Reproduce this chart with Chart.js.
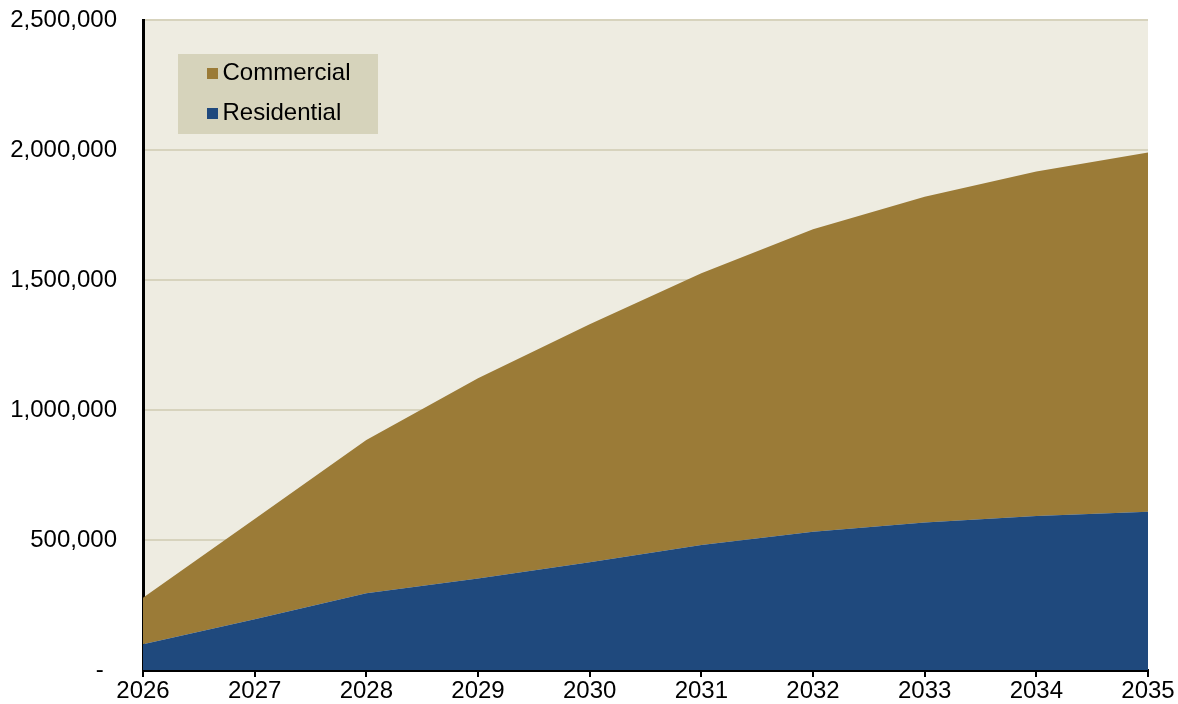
<!DOCTYPE html>
<html>
<head>
<meta charset="utf-8">
<style>
  html, body { margin: 0; padding: 0; background: #ffffff; }
  #wrap { width: 1178px; height: 704px; }
</style>
<script src="https://cdn.jsdelivr.net/npm/chart.js@4.4.1/dist/chart.umd.min.js"></script>
</head>
<body>
<div id="wrap"><canvas id="chart" width="1178" height="704"></canvas></div>
<script>
// Years on the horizontal axis
const years = ['2026', '2027', '2028', '2029', '2030', '2031', '2032', '2033', '2034', '2035'];

// Stacked series (Residential at the bottom, Commercial on top)
const residential = [99000, 195000, 295000, 352000, 414000, 481000, 532000, 567000, 592000, 609000];
const commercial  = [179000, 386000, 590000, 770000, 916000, 1045000, 1163000, 1253000, 1325000, 1381000];

// Value axis
const yMin = 0;
const yMax = 2500000;
const yStep = 500000;

const FONT = '"Liberation Sans", Arial, Helvetica, sans-serif';
const FONT_SIZE = 24;
const COLORS = {
  residential: '#1f497d',
  commercial: '#9b7b37',
  plotBg: '#eeece1',
  grid: '#d7d3bd',
  legendBg: '#d6d3bb'
};

// Paints the beige plot background behind the areas
const plotBackground = {
  id: 'plotBackground',
  beforeDraw(chart) {
    const { ctx, chartArea: a } = chart;
    ctx.save();
    ctx.fillStyle = COLORS.plotBg;
    ctx.fillRect(a.left, a.top, a.right - a.left, a.bottom - a.top);
    ctx.restore();
  }
};

// Boxed legend in the upper-left of the plot, listing the top series first
const boxLegend = {
  id: 'boxLegend',
  afterDraw(chart) {
    const { ctx, chartArea: a } = chart;
    const items = chart.data.datasets.slice().reverse();
    const x0 = a.left + 35, y0 = a.top + 34, w = 200, h = 80;
    ctx.save();
    ctx.fillStyle = COLORS.legendBg;
    ctx.fillRect(x0, y0, w, h);
    ctx.font = FONT_SIZE + 'px ' + FONT;
    ctx.textBaseline = 'middle';
    items.forEach((ds, i) => {
      const cy = y0 + 19.5 + i * 40;
      ctx.fillStyle = ds.backgroundColor;
      ctx.fillRect(x0 + 29, cy - 5.5, 11, 11);
      ctx.fillStyle = '#000000';
      ctx.fillText(ds.label, x0 + 44.5, cy - 0.5);
    });
    ctx.restore();
  }
};

new Chart(document.getElementById('chart'), {
  type: 'line',
  data: {
    labels: years,
    datasets: [
      {
        label: 'Residential',
        data: residential,
        backgroundColor: COLORS.residential,
        borderColor: COLORS.residential,
        borderWidth: 0,
        pointRadius: 0,
        fill: 'origin',
        tension: 0
      },
      {
        label: 'Commercial',
        data: commercial,
        backgroundColor: COLORS.commercial,
        borderColor: COLORS.commercial,
        borderWidth: 0,
        pointRadius: 0,
        fill: '-1',
        tension: 0
      }
    ]
  },
  options: {
    responsive: false,
    animation: false,
    layout: { padding: { top: 20, right: 30, left: 0, bottom: 0 } },
    plugins: {
      legend: { display: false },
      tooltip: { enabled: false }
    },
    scales: {
      x: {
        offset: false,
        afterFit(scale) { scale.height = 34; },
        border: { display: true, color: '#000000', width: 3 },
        grid: {
          display: true,
          drawOnChartArea: false,
          drawTicks: true,
          tickLength: 7,
          color: '#000000',
          lineWidth: 2
        },
        ticks: {
          color: '#000000',
          padding: 0,
          maxRotation: 0,
          autoSkip: false,
          font: { family: FONT, size: FONT_SIZE }
        }
      },
      y: {
        stacked: true,
        min: yMin,
        max: yMax,
        afterFit(scale) { scale.width = 143; },
        border: { display: true, color: '#000000', width: 3 },
        grid: {
          color: COLORS.grid,
          lineWidth: 2,
          drawTicks: true,
          tickLength: 26,
          tickColor: 'rgba(0,0,0,0)'
        },
        ticks: {
          stepSize: yStep,
          color: '#000000',
          padding: 0,
          font: { family: FONT, size: FONT_SIZE },
          callback: (v) => v === 0 ? '-  ' : v.toLocaleString('en-US')
        }
      }
    }
  },
  plugins: [plotBackground, boxLegend]
});
</script>
</body>
</html>
